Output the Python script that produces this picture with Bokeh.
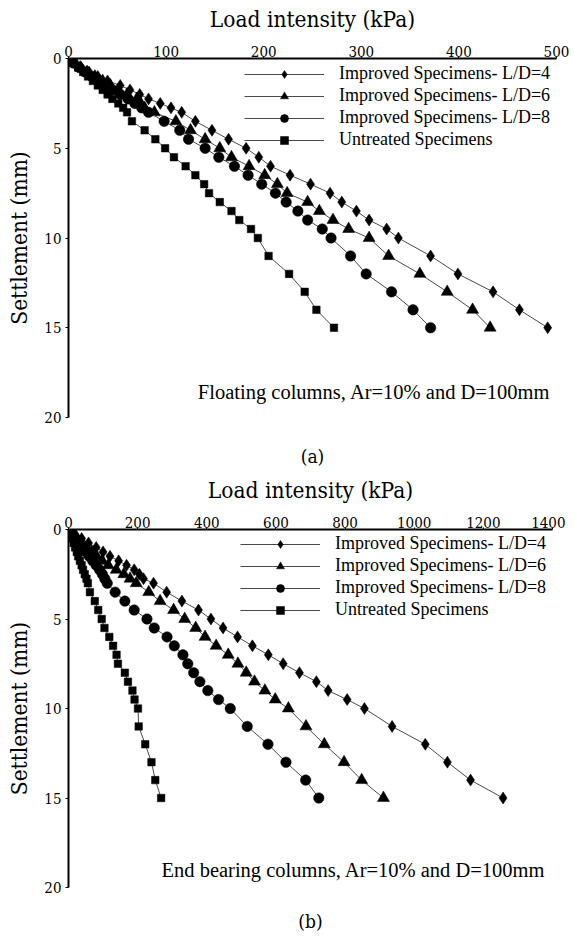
from bokeh.plotting import figure
from bokeh.models import Range1d, Legend, LegendItem, Label, FixedTicker, LinearAxis
from bokeh.layouts import column
from bokeh.embed import file_html
from bokeh.resources import INLINE

# ---------------- data ----------------
settlement = [0, 0.25, 0.5, 0.75, 1, 1.25, 1.5, 1.75, 2, 2.25, 2.5, 2.75, 3,
              3.5, 4, 4.5, 5, 5.5, 6, 6.5, 7, 7.5, 8, 8.5, 9, 9.5, 10,
              11, 12, 13, 14, 15]

series_labels = ["Improved Specimens- L/D=4", "Improved Specimens- L/D=6",
                 "Improved Specimens- L/D=8", "Untreated Specimens"]

# (a) Floating columns
a_ld4 = [0, 6, 13, 21, 30, 40, 53, 63, 73, 82, 94, 105, 116, 130, 147, 164, 182, 195,
         207, 227, 248, 268, 280, 295, 308, 326, 338, 371, 399, 435, 462, 491]
a_ld6 = [0, 6, 12, 19, 27, 35, 43, 51, 60, 70, 74, 78, 88, 110, 125, 140, 155, 167,
         185, 201, 214, 224, 245, 257, 271, 287, 308, 328, 360, 388, 414, 432]
a_ld8 = [0, 5, 11, 17, 24, 31, 38, 45, 53, 61, 68, 75, 82, 98, 114, 123, 140, 154,
         170, 184, 198, 212, 223, 235, 245, 260, 269, 289, 305, 331, 353, 371]
a_untreated = [0, 5, 10, 15, 20, 25, 30, 35, 40, 45, 51, 56, 60, 65, 78, 89, 99, 108,
               120, 130, 139, 144, 155, 167, 175, 187, 194, 205, 226, 242, 254, 272]

# (b) End bearing columns
b_ld4 = [0, 18, 38, 58, 80, 100, 120, 145, 168, 190, 205, 217, 246, 284, 328, 376, 412,
         447, 489, 532, 578, 621, 668, 717, 751, 806, 856, 936, 1032, 1096, 1163, 1257]
b_ld6 = [0, 12, 25, 38, 52, 67, 82, 98, 115, 138, 160, 178, 196, 232, 265, 304, 336,
         368, 395, 427, 462, 490, 514, 538, 568, 598, 636, 687, 740, 797, 848, 911]
b_ld8 = [0, 10, 20, 30, 40, 50, 60, 70, 80, 90, 98, 105, 112, 135, 163, 190, 227,
         248, 285, 306, 331, 345, 362, 380, 403, 434, 468, 517, 577, 629, 686, 724]
b_untreated = [0, 5, 10, 15, 19, 24, 28, 33, 38, 42, 47, 52, 56, 62, 76, 86, 96, 104,
               118, 129, 139, 143, 163, 172, 185, 191, 201, 203, 222, 240, 251, 268]

x_ticks_a = [0, 100, 200, 300, 400, 500]
x_ticks_b = [0, 200, 400, 600, 800, 1000, 1200, 1400]
y_ticks = [0, 5, 10, 15, 20]

x_title = "Load intensity (kPa)"
y_title = "Settlement (mm)"
note_a = "Floating columns, Ar=10% and D=100mm"
note_b = "End bearing columns, Ar=10% and D=100mm"

FONT = "Liberation Serif"            # legend and notes
AXFONT = "DejaVu Serif Condensed"    # axis texts (serif face that the axes resolve)
LINE_COLOR = "#4a4a4a"

marker_styles = [
    dict(marker="diamond", size=12),
    dict(marker="triangle", size=12),
    dict(marker="circle", size=10.5),
    dict(marker="square", size=7.5),
]


def style_axis(ax):
    ax.axis_line_width = 2
    ax.axis_line_color = "black"
    ax.major_tick_line_color = "black"
    ax.major_tick_line_width = 1
    ax.minor_tick_line_color = None
    ax.major_tick_in = 0
    ax.major_label_text_font = AXFONT
    ax.major_label_text_font_size = "15px"
    ax.major_label_text_color = "black"
    ax.axis_label_text_font = AXFONT
    ax.axis_label_text_font_size = "22.5px"
    ax.axis_label_text_font_style = "normal"
    ax.axis_label_text_color = "black"


def make_fig(series, x_end, x_ticks, frame_w, frame_h, border_bottom, legend_xy,
             note, note_x, note_y, cap, cap_bounds, cap_standoff):
    p = figure(frame_width=frame_w, frame_height=frame_h,
               x_range=Range1d(0, x_end), y_range=Range1d(20, 0),
               output_backend="svg", toolbar_location=None,
               x_axis_location=None, y_axis_location=None,
               min_border_left=68, min_border_top=58, min_border_right=13,
               min_border_bottom=border_bottom)
    p.outline_line_color = None
    p.grid.visible = False
    p.background_fill_color = "white"
    p.border_fill_color = "white"

    xa = LinearAxis(axis_label=x_title, ticker=FixedTicker(ticks=x_ticks))
    style_axis(xa)
    xa.major_tick_out = 2
    xa.major_label_standoff = 0
    xa.axis_label_standoff = 11
    p.add_layout(xa, "above")

    ya = LinearAxis(axis_label=y_title, ticker=FixedTicker(ticks=y_ticks))
    style_axis(ya)
    ya.major_tick_out = 3
    ya.major_label_standoff = 4
    ya.axis_label_standoff = 9
    p.add_layout(ya, "left")

    # caption "(a)" / "(b)" below the frame, as the label of a bare axis
    cap_axis = LinearAxis(axis_label=cap, bounds=cap_bounds, ticker=FixedTicker(ticks=[]),
                          axis_line_color=None, major_tick_line_color=None,
                          minor_tick_line_color=None, major_label_text_font_size="0px",
                          axis_label_standoff=cap_standoff, axis_label_text_font=AXFONT,
                          axis_label_text_font_size="19px",
                          axis_label_text_font_style="normal",
                          axis_label_text_color="black")
    p.add_layout(cap_axis, "below")

    items = []
    for label, xs, st in zip(series_labels, series, marker_styles):
        lr = p.line(xs, settlement, line_color=LINE_COLOR, line_width=1)
        sr = p.scatter(xs, settlement, marker=st["marker"], size=st["size"],
                       fill_color="black", line_color="black", line_width=0.5)
        items.append(LegendItem(label=label, renderers=[lr, sr]))

    legend = Legend(items=items, location=legend_xy, glyph_width=80, glyph_height=20,
                    label_height=20, label_standoff=15, spacing=1, padding=0, margin=0,
                    border_line_color=None, background_fill_alpha=0,
                    label_text_font=FONT, label_text_font_size="18px",
                    label_text_color="black")
    p.add_layout(legend)

    p.add_layout(Label(x=note_x, y=note_y, text=note, text_align="right",
                       text_baseline="middle", text_font=FONT,
                       text_font_size="20.5px", text_color="black"))
    return p


p1 = make_fig([a_ld4, a_ld6, a_ld8, a_untreated], 500, x_ticks_a, 488, 359, 54,
              (176, 267), note_a, 494, 18.6, "(a)", (0, 456), 27)
p2 = make_fig([b_ld4, b_ld6, b_ld8, b_untreated], 1400, x_ticks_b, 484, 358, 52,
              (172, 267), note_b, 1380, 19.0, "(b)", (0, 1284), 22)

layout = column(p1, p2)
open("out.html", "w").write(file_html(layout, INLINE))
